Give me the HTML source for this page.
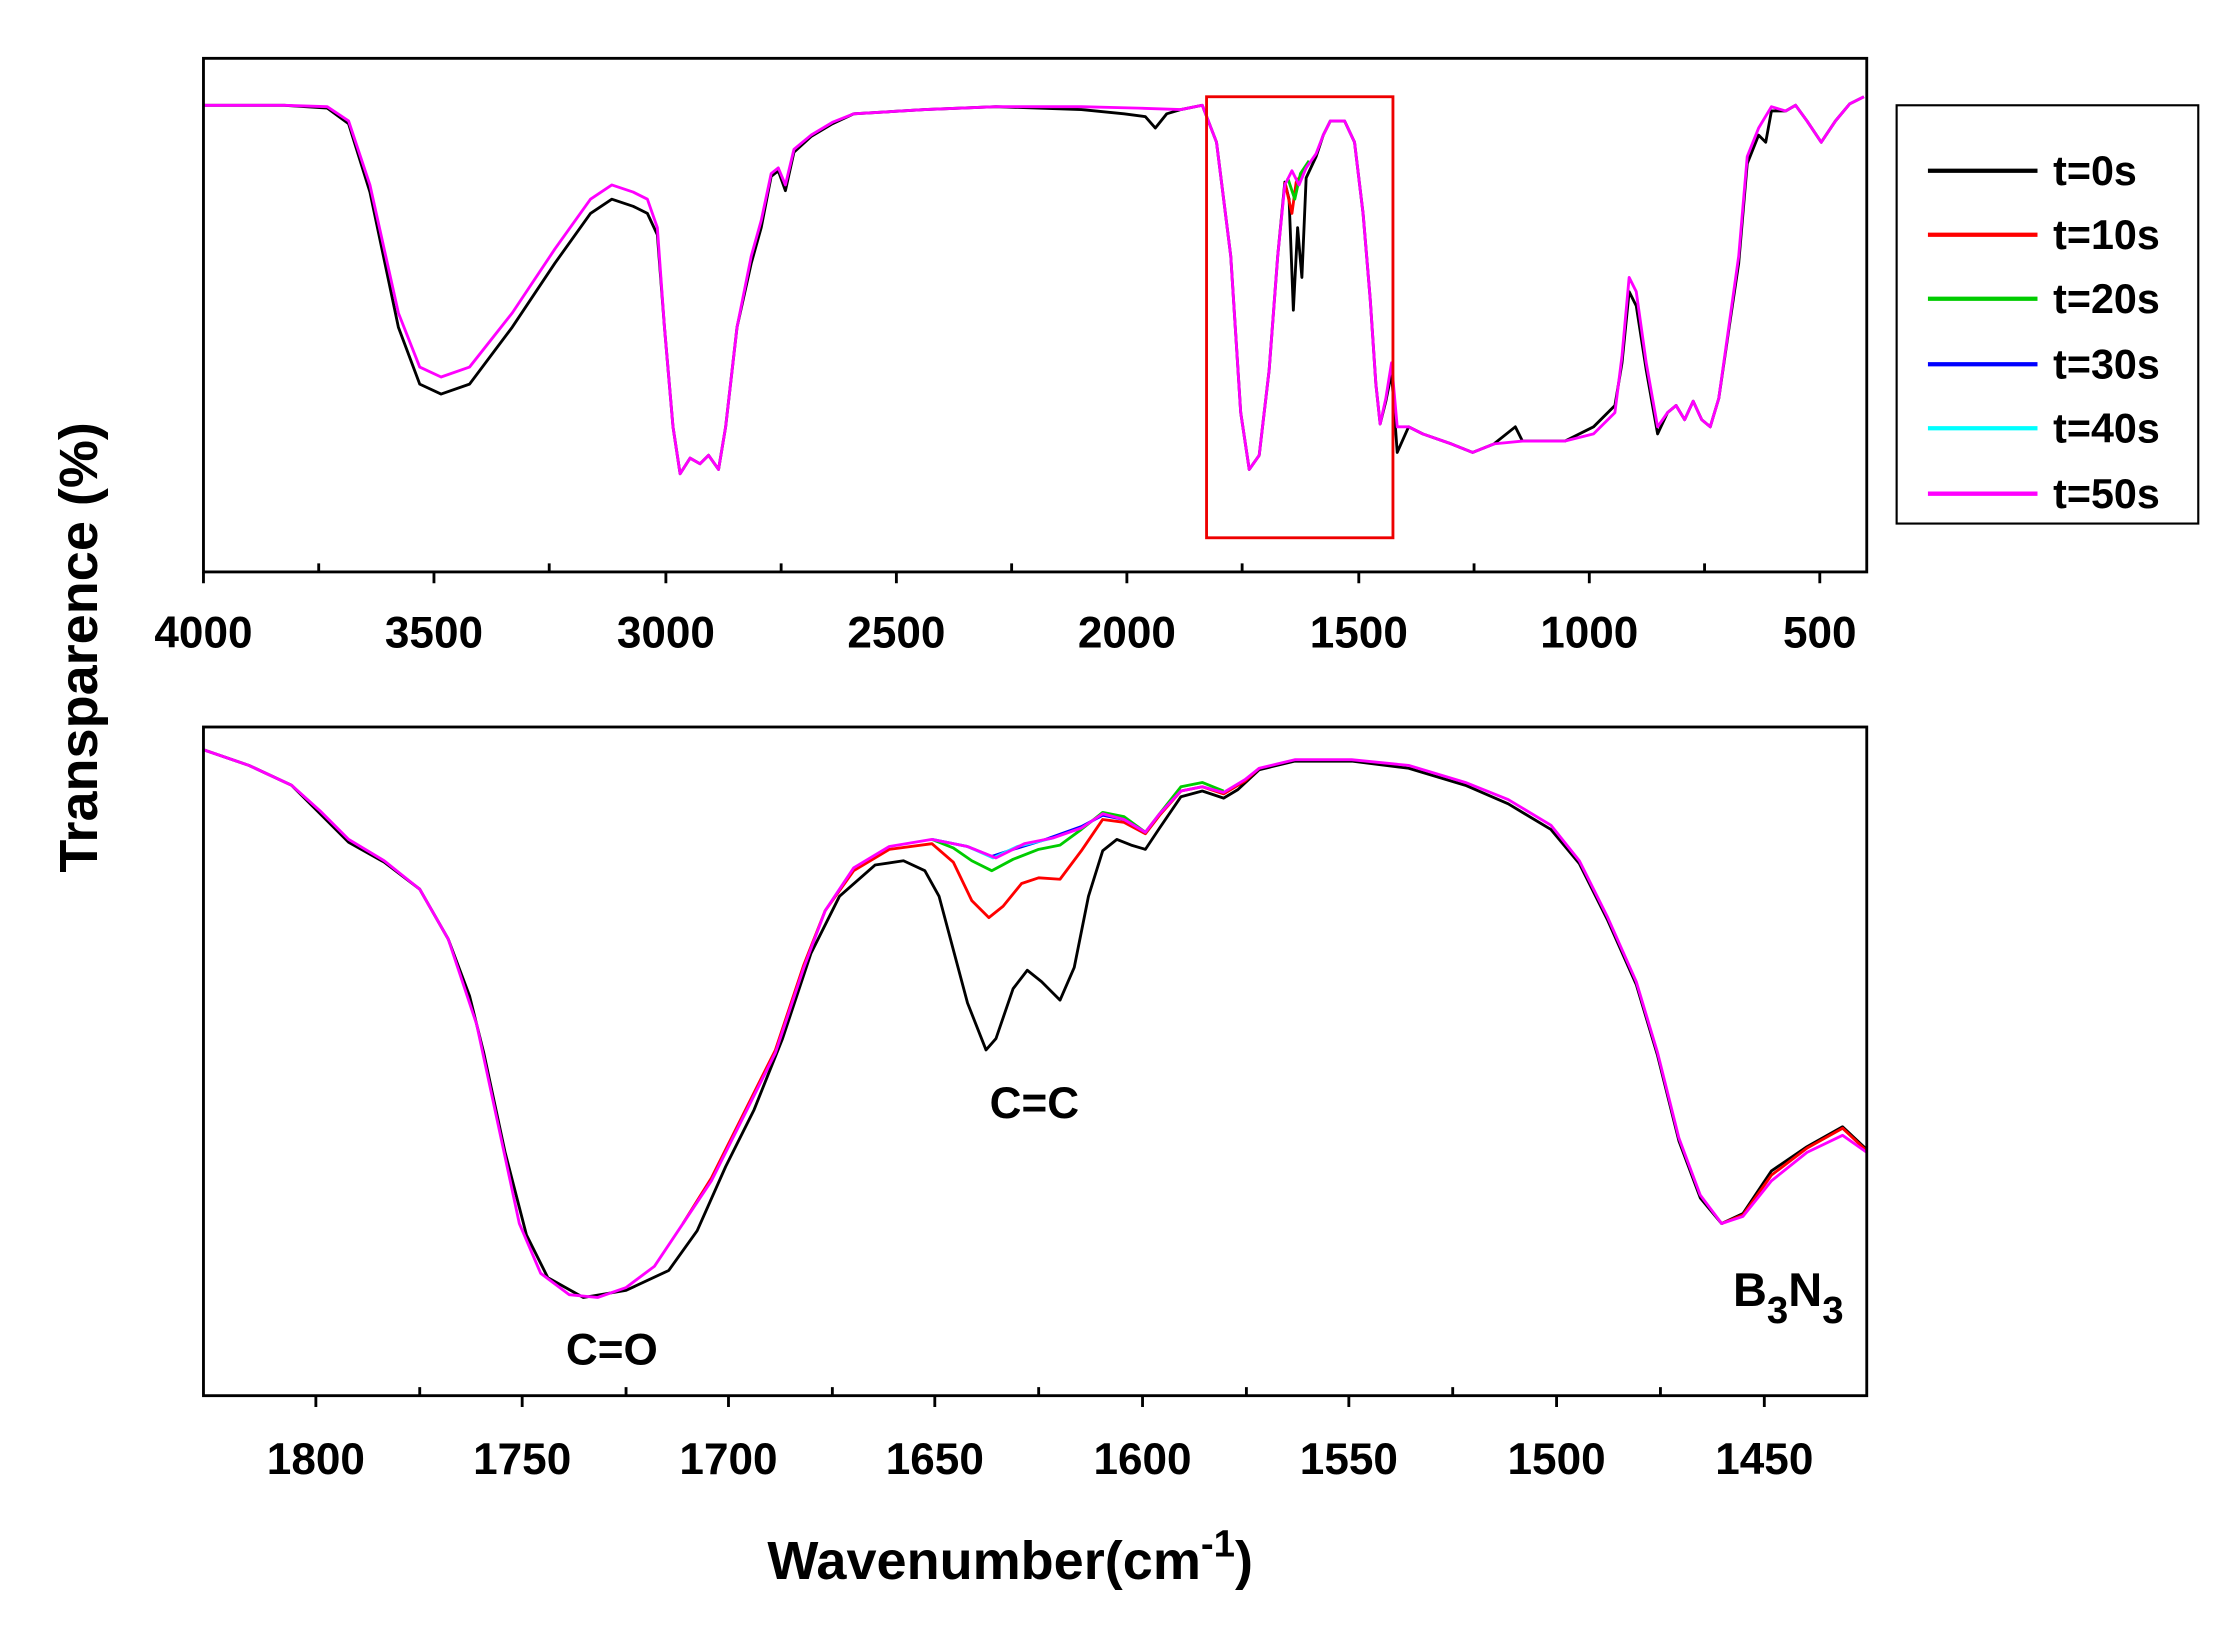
<!DOCTYPE html>
<html><head><meta charset="utf-8"><style>html,body{margin:0;padding:0;background:#fff}svg{display:block}</style></head>
<body>
<svg width="2231" height="1629" viewBox="0 0 1568 1145" preserveAspectRatio="none" xmlns="http://www.w3.org/2000/svg" font-family="Liberation Sans, Arial, sans-serif" font-weight="bold">
<rect width="1568" height="1145" fill="#fff"/>
<g fill="none" stroke-linejoin="round" stroke-width="2">
<polyline stroke="#000" points="143,74 200,74 230,76 245,87 260,135 280,230 295,270 310,277 330,270 360,230 390,185 415,150 430,140 445,145 455,150 462,165 467,230 473,300 478,333 485,322 492,326 498,320 505,330 510,300 518,230 528,185 535,160 542,124 547,120 552,134 558,107 570,96 585,87 600,80 650,77 700,75 760,77 790,80 805,82 812,90 820,80 830,77 845,74 855,100 865,180 872,290 878,330 885,320 892,260 898,180 903,128 906,140 909,218 912,160 915,195 918,125 925,110 930,95 935,85 945,85 952,100 958,150 963,210 967,270 970,298 974,282 978,262 982,318 990,300 1000,305 1020,312 1035,318 1050,312 1065,300 1070,310 1100,310 1120,300 1135,285 1140,255 1145,205 1150,215 1157,260 1165,305 1172,290 1178,285 1184,295 1190,282 1196,295 1202,300 1208,280 1215,232 1222,185 1228,115 1236,95 1241,100 1245,78 1255,78 1262,74 1270,85 1280,100 1290,85 1300,73 1310,68"/>
<polyline stroke="#f00" points="903,128 908,150 911,128 918,118"/>
<polyline stroke="#0c0" points="905,125 910,140 914,122 920,113"/>
<polyline stroke="#f0f" points="143,74 200,74 230,75 245,85 260,130 280,220 295,258 310,265 330,258 360,220 390,175 415,140 430,130 445,135 455,140 462,160 467,230 473,300 478,333 485,322 492,326 498,320 505,330 510,300 518,230 528,180 535,155 542,122 547,118 552,130 558,105 570,95 585,86 600,80 650,77 700,75 760,75 800,76 830,77 845,74 855,100 865,180 872,290 878,330 885,320 892,260 898,180 903,130 908,120 913,130 918,118 925,108 930,95 935,85 945,85 952,100 958,150 963,210 967,270 970,298 974,280 978,255 982,300 990,300 1000,305 1020,312 1035,318 1050,312 1070,310 1100,310 1120,305 1135,290 1140,250 1145,195 1150,205 1157,255 1165,300 1172,290 1178,285 1184,295 1190,282 1196,295 1202,300 1208,280 1215,230 1222,180 1228,110 1236,90 1245,75 1255,78 1262,74 1270,85 1280,100 1290,85 1300,73 1310,68"/>
<polyline stroke="#000" points="143,527 175,538 205,552 225,572 245,592 270,606 295,625 315,660 330,700 340,740 355,810 370,868 385,898 410,912 440,907 470,893 490,865 510,820 530,780 550,730 570,670 590,630 615,608 635,605 650,612 660,630 668,660 680,705 693,738 700,730 712,695 722,682 732,690 745,703 755,680 765,630 775,598 785,590 795,594 805,597 815,582 830,560 845,556 860,561 870,555 885,541 910,535 950,535 990,540 1030,552 1060,565 1090,583 1110,607 1130,647 1150,692 1165,742 1180,802 1195,842 1210,860 1225,853 1245,823 1270,806 1295,792 1312,808"/>
<polyline stroke="#f00" points="480,860 500,828 520,788 545,738 565,678 580,640 600,612 625,597 655,593 670,606 683,633 695,645 705,637 718,621 730,617 745,618 760,598 775,576 790,578 805,586 815,573 830,556 845,553 860,558 875,549 885,540"/>
<polyline stroke="#f00" points="1210,860 1225,854 1245,826 1270,807 1295,793 1312,809"/>
<polyline stroke="#0c0" points="655,590 670,596 683,605 697,612 712,604 730,597 745,594 760,583 775,571 790,574 805,585 815,572 830,553 845,550 860,556"/>
<polyline stroke="#00f" points="655,590 680,595 697,602 712,597 735,590 760,581 775,573 790,576 805,585"/>
<polyline stroke="#0ff" points="655,590 680,595 698,603 715,595 740,589"/>
<polyline stroke="#f0f" points="143,527 175,538 205,552 225,570 245,590 270,605 295,625 315,660 335,720 350,790 365,860 380,895 400,910 420,912 440,905 460,890 480,860 500,830 520,790 545,740 565,680 580,640 600,610 625,595 655,590 680,595 700,603 720,593 740,589 760,582 775,572 790,576 805,585 815,572 830,556 845,553 860,557 875,548 885,540 910,534 950,534 990,538 1030,550 1060,562 1090,580 1110,605 1130,645 1150,690 1165,740 1180,800 1195,840 1210,860 1225,855 1245,830 1270,810 1295,798 1312,810"/>
</g>
<g fill="none" stroke="#000" stroke-width="2">
<rect x="143" y="41" width="1169" height="361"/>
<rect x="143" y="511" width="1169" height="470"/>
<rect x="1333" y="74" width="212" height="294" stroke-width="1.5"/>
</g>
<rect x="848" y="68" width="131" height="310" fill="none" stroke="#e00" stroke-width="2"/>
<g stroke="#000" stroke-width="2">
<path d="M143,402v8M305,402v8M468,402v8M630,402v8M792,402v8M955,402v8M1117,402v8M1279,402v8M224,402v-6M386,402v-6M549,402v-6M711,402v-6M873,402v-6M1036,402v-6M1198,402v-6"/>
<path d="M222,981v8M367,981v8M512,981v8M657,981v8M803,981v8M948,981v8M1094,981v8M1240,981v8M295,981v-6M440,981v-6M585,981v-6M730,981v-6M876,981v-6M1021,981v-6M1167,981v-6"/>
</g>
<g font-size="31" text-anchor="middle" fill="#000">
<text x="143" y="455">4000</text><text x="305" y="455">3500</text><text x="468" y="455">3000</text><text x="630" y="455">2500</text><text x="792" y="455">2000</text><text x="955" y="455">1500</text><text x="1117" y="455">1000</text><text x="1279" y="455">500</text>
<text x="222" y="1036">1800</text><text x="367" y="1036">1750</text><text x="512" y="1036">1700</text><text x="657" y="1036">1650</text><text x="803" y="1036">1600</text><text x="948" y="1036">1550</text><text x="1094" y="1036">1500</text><text x="1240" y="1036">1450</text>
<text x="430" y="959">C=O</text><text x="727" y="786">C=C</text>
<text x="1218" y="918" text-anchor="start" font-size="33">B<tspan dy="12" font-size="27">3</tspan><tspan dy="-12">N</tspan><tspan dy="12" font-size="27">3</tspan></text>
<text x="710" y="1110" font-size="38">Wavenumber(cm<tspan dy="-16" font-size="27">-1</tspan><tspan dy="16">)</tspan></text>
<text transform="translate(68,455) rotate(-90)" font-size="38">Transparence (%)</text>
</g>
<g stroke-width="3">
<line x1="1355" y1="120" x2="1432" y2="120" stroke="#000"/>
<line x1="1355" y1="165" x2="1432" y2="165" stroke="#f00"/>
<line x1="1355" y1="210" x2="1432" y2="210" stroke="#0c0"/>
<line x1="1355" y1="256" x2="1432" y2="256" stroke="#00f"/>
<line x1="1355" y1="301" x2="1432" y2="301" stroke="#0ff"/>
<line x1="1355" y1="347" x2="1432" y2="347" stroke="#f0f"/>
</g>
<g font-size="29" fill="#000">
<text x="1443" y="130">t=0s</text><text x="1443" y="175">t=10s</text><text x="1443" y="220">t=20s</text><text x="1443" y="266">t=30s</text><text x="1443" y="311">t=40s</text><text x="1443" y="357">t=50s</text>
</g>
</svg>
</body></html>
